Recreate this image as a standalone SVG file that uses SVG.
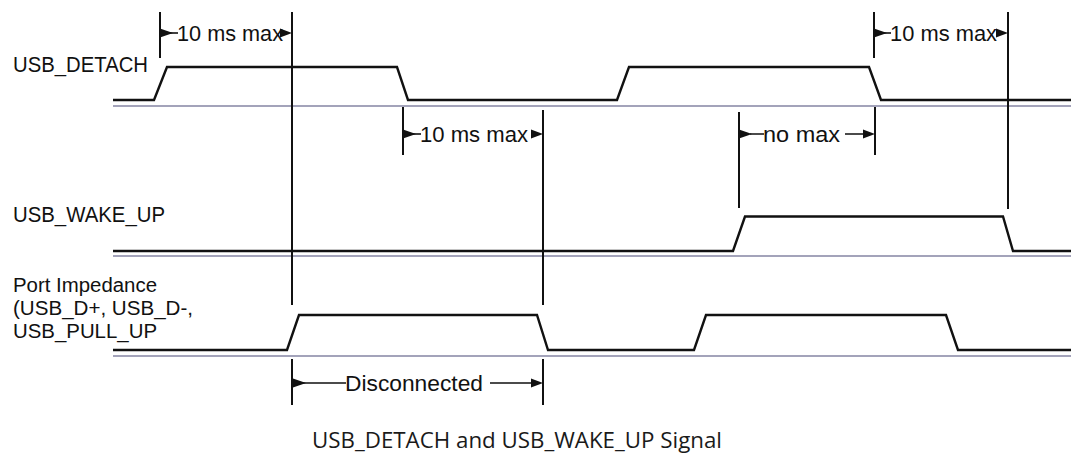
<svg xmlns="http://www.w3.org/2000/svg" width="1071" height="454" viewBox="0 0 1071 454">
<style>
.wave{fill:none;stroke:#111;stroke-width:2.4;stroke-linejoin:miter}
.base{fill:none;stroke:#a3a3ba;stroke-width:2}
.tick{fill:none;stroke:#111;stroke-width:2}
.dim{fill:none;stroke:#111;stroke-width:1.6}
.lbl{font-family:"Liberation Sans",Arial,sans-serif;font-size:22px;fill:#111}
.plbl{font-family:"Liberation Sans",Arial,sans-serif;font-size:19.5px;fill:#111}
.cap{font-family:"Open Sans","Noto Sans",sans-serif;font-size:21px;fill:#1a1a1a}
.ah{fill:#111}
</style>
<defs>
<path id="ahR" d="M0,0 L-12,-4.5 L-12,4.5 Z"/>
<path id="ahL" d="M0,-4.5 L13,0 L0,4.5 Z"/>
</defs>
<rect width="1071" height="454" fill="#fff"/>

<g id="usb-detach">
<text class="lbl" x="13" y="72" textLength="135" lengthAdjust="spacingAndGlyphs">USB_DETACH</text>
<path class="base" d="M113,106 H1071"/>
<path class="wave" d="M113,100 H154 L167,67 H397 L408,100 H617 L629,67 H869 L881,100 H1071"/>
</g>

<g id="usb-wake-up">
<text class="lbl" x="13" y="222" textLength="152" lengthAdjust="spacingAndGlyphs">USB_WAKE_UP</text>
<path class="base" d="M113,256 H1071"/>
<path class="wave" d="M113,251 H733 L745,216.5 H1003 L1013,251 H1071"/>
</g>

<g id="port-impedance">
<text class="plbl" x="13" y="292" textLength="144" lengthAdjust="spacingAndGlyphs">Port Impedance</text>
<text class="plbl" x="13" y="315" textLength="180" lengthAdjust="spacingAndGlyphs">(USB_D+, USB_D-,</text>
<text class="plbl" x="13" y="338" textLength="144" lengthAdjust="spacingAndGlyphs">USB_PULL_UP</text>
<path class="base" d="M113,356 H1071"/>
<path class="wave" d="M113,350 H287 L299,315 H537 L548,350 H694 L706,315 H946 L958,350 H1071"/>
</g>

<g id="connectors">
<path class="tick" d="M160,12 V58 M292,12 V305 M292,359 V405 M403,107 V155 M543,110 V305 M543,359 V405 M739,112 V208 M875,107 V155 M874,12 V58 M1008,12 V209"/>
</g>

<g id="dim-10ms-1">
<use href="#ahL" class="ah" x="160" y="33"/>
<use href="#ahR" class="ah" x="292" y="33"/>
<path class="dim" d="M170,33 H178"/>
<text class="lbl" x="177" y="41" textLength="106" lengthAdjust="spacingAndGlyphs">10 ms max</text>
</g>

<g id="dim-10ms-2">
<use href="#ahL" class="ah" x="403" y="134"/>
<use href="#ahR" class="ah" x="543" y="134"/>
<path class="dim" d="M413,134 H421"/>
<text class="lbl" x="420" y="142" textLength="108" lengthAdjust="spacingAndGlyphs">10 ms max</text>
</g>

<g id="dim-no-max">
<use href="#ahL" class="ah" x="739" y="134"/>
<use href="#ahR" class="ah" x="875" y="134"/>
<path class="dim" d="M750,134 H764 M845,134 H865"/>
<text class="lbl" x="763" y="142" textLength="77" lengthAdjust="spacingAndGlyphs">no max</text>
</g>

<g id="dim-10ms-3">
<use href="#ahL" class="ah" x="874" y="33"/>
<use href="#ahR" class="ah" x="1008" y="33"/>
<path class="dim" d="M884,33 H891"/>
<text class="lbl" x="890" y="41" textLength="107" lengthAdjust="spacingAndGlyphs">10 ms max</text>
</g>

<g id="dim-disconnected">
<use href="#ahL" class="ah" x="293" y="383"/>
<use href="#ahR" class="ah" x="543" y="383"/>
<path class="dim" d="M303,383 H346 M490,383 H533"/>
<text class="lbl" x="345" y="391" textLength="138" lengthAdjust="spacingAndGlyphs">Disconnected</text>
</g>

<g id="caption">
<text class="cap" x="312" y="448" textLength="410" lengthAdjust="spacingAndGlyphs">USB_DETACH and USB_WAKE_UP Signal</text>
</g>
</svg>
